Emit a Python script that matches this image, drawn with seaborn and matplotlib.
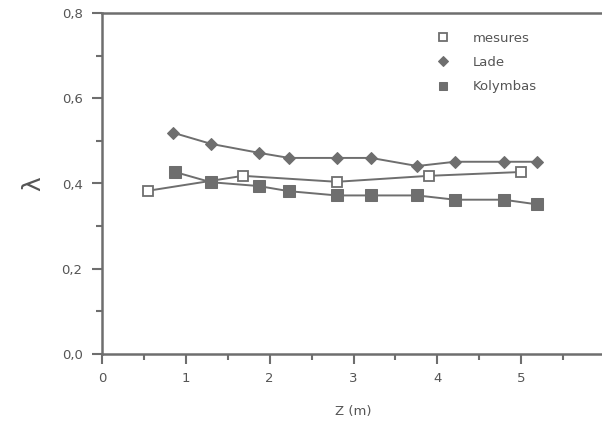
import matplotlib
matplotlib.use("Agg")
import matplotlib.pyplot as plt
import seaborn as sns
import pandas as pd
from matplotlib.ticker import MultipleLocator, FuncFormatter

mes_z = [0.55, 1.68, 2.80, 3.90, 5.00]
mes_l = [0.383, 0.418, 0.404, 0.418, 0.427]

lade_z = [0.85, 1.30, 1.87, 2.23, 2.80, 3.21, 3.76, 4.21, 4.79, 5.19]
lade_l = [0.519, 0.493, 0.472, 0.460, 0.460, 0.460, 0.441, 0.451, 0.451, 0.451]

kol_z = [0.87, 1.30, 1.87, 2.23, 2.80, 3.21, 3.76, 4.21, 4.79, 5.19]
kol_l = [0.427, 0.403, 0.394, 0.382, 0.372, 0.372, 0.372, 0.362, 0.362, 0.351]

sns.set_theme(style="white")
plt.rcParams['font.family'] = ['DejaVu Sans']

gray = "#6e6e6e"
tcol = "#555555"

fig = plt.figure(figsize=(6.02, 4.28), dpi=100)
ax = fig.add_axes([102/602, 1-354/428, 503/602, (354-13)/428])

df_m = pd.DataFrame({"z": mes_z, "l": mes_l})
df_la = pd.DataFrame({"z": lade_z, "l": lade_l})
df_k = pd.DataFrame({"z": kol_z, "l": kol_l})

sns.lineplot(data=df_m, x="z", y="l", ax=ax, color=gray, lw=1.4, marker="s",
             markersize=7, markerfacecolor="white", markeredgecolor=gray,
             markeredgewidth=1.3, label="mesures")
sns.lineplot(data=df_la, x="z", y="l", ax=ax, color=gray, lw=1.4, marker="D",
             markersize=6.5, markerfacecolor=gray, markeredgecolor=gray,
             label="Lade")
sns.lineplot(data=df_k, x="z", y="l", ax=ax, color=gray, lw=1.4, marker="s",
             markersize=8, markerfacecolor=gray, markeredgecolor=gray,
             label="Kolymbas")

ax.set_xlim(0, 6)
ax.set_ylim(0, 0.8)
ax.xaxis.set_major_locator(MultipleLocator(1))
ax.xaxis.set_minor_locator(MultipleLocator(0.5))
ax.yaxis.set_major_locator(MultipleLocator(0.2))
ax.yaxis.set_minor_locator(MultipleLocator(0.1))
ax.yaxis.set_major_formatter(FuncFormatter(lambda v, p: f"{v:.1f}".replace(".", ",")))
ax.xaxis.set_major_formatter(FuncFormatter(lambda v, p: f"{int(round(v))}"))

ax.tick_params(which="both", direction="out", color=gray, width=1.5,
               labelcolor=tcol, labelsize=9.5)
ax.tick_params(which="major", length=7)
ax.tick_params(which="minor", length=4)
ax.tick_params(axis="x", which="both", bottom=True, pad=6)
ax.tick_params(axis="y", which="both", left=True, pad=7)

for s in ["left", "bottom", "top", "right"]:
    ax.spines[s].set_color(gray)
    ax.spines[s].set_linewidth(1.8)

ax.set_xlabel("Z (m)", color=tcol, fontsize=9.5, labelpad=14)
ax.set_ylabel("λ", color=tcol, fontsize=18, labelpad=12)

leg = ax.legend(loc="upper left", bbox_to_anchor=(0.655, 0.98), frameon=False,
                fontsize=9.5, handlelength=0, handletextpad=2.2, labelspacing=0.85,
                markerscale=0.75)
for t in leg.get_texts():
    t.set_color(tcol)

fig.savefig("out.png", dpi=100, facecolor="white")
